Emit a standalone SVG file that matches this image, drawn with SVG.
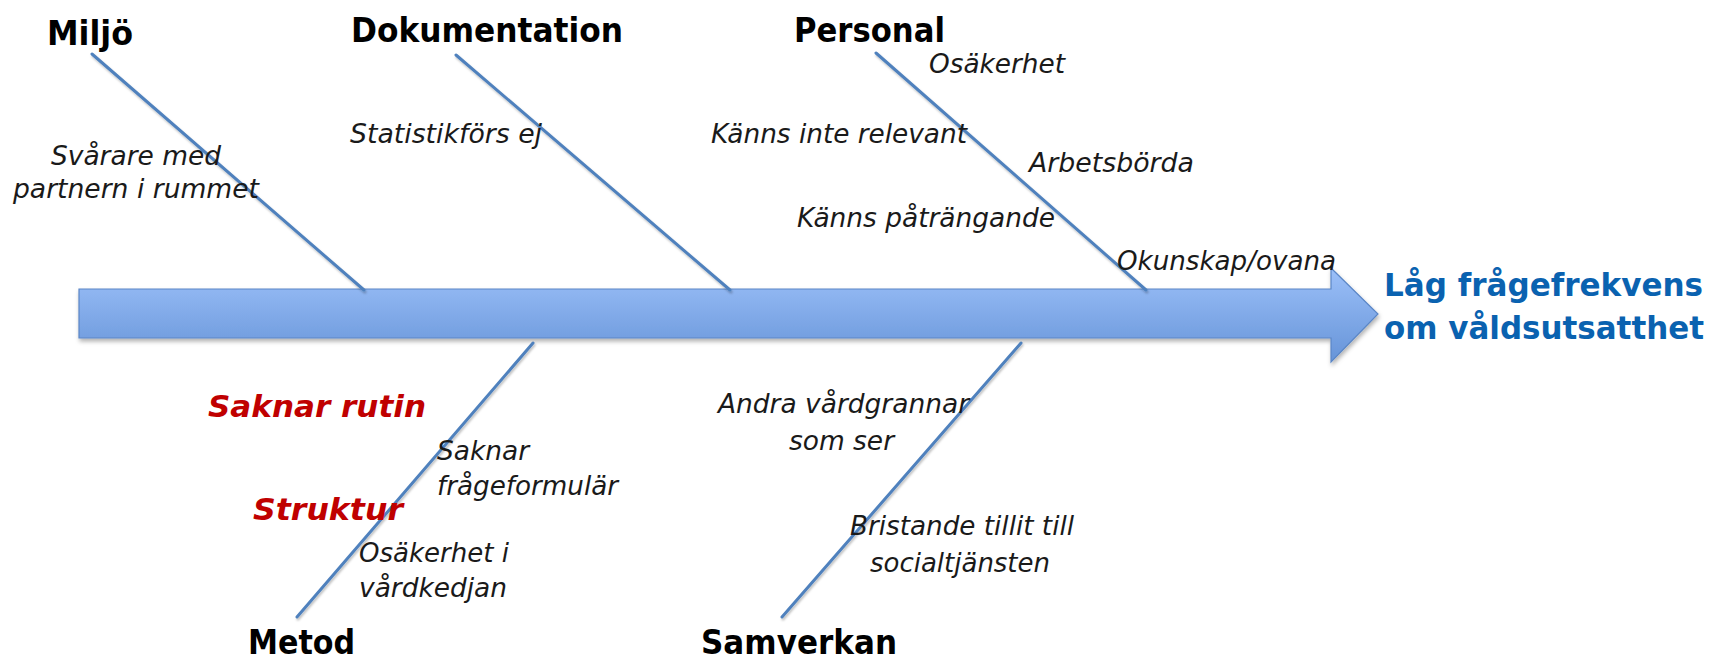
<svg xmlns="http://www.w3.org/2000/svg" width="1713" height="661" viewBox="0 0 1713 661">
<style>
.cat{font-family:"DejaVu Sans",Verdana,sans-serif;font-weight:bold;font-size:34px;fill:#000}
.lbl{font-family:"DejaVu Sans",Verdana,sans-serif;font-style:italic;font-size:26px;fill:#1a1a1a}
.red{font-family:"DejaVu Sans",Verdana,sans-serif;font-style:italic;font-weight:bold;font-size:30px;fill:#C00000}
.ttl{font-family:"DejaVu Sans",Verdana,sans-serif;font-weight:bold;font-size:31.5px;fill:#0A62B0}
.bone{stroke:#4F81BD;stroke-width:3;fill:none;stroke-linecap:round}
</style>
<defs>
<linearGradient id="g" x1="0" y1="0" x2="0" y2="1">
<stop offset="0" stop-color="#9CC0F9"/>
<stop offset="1" stop-color="#6694D8"/>
</linearGradient>
<filter id="sh" x="-5%" y="-20%" width="110%" height="150%">
<feDropShadow dx="1" dy="3" stdDeviation="2" flood-color="#000" flood-opacity="0.3"/>
</filter>
<filter id="lsh" x="-10%" y="-10%" width="120%" height="120%">
<feDropShadow dx="1" dy="2" stdDeviation="1" flood-color="#000" flood-opacity="0.25"/>
</filter>
</defs>
<g id="spine">
<path d="M79,289 H1331 V268 L1378,314 L1331,362 V338 H79 Z" fill="url(#g)" stroke="#5A86C6" stroke-width="1.2" filter="url(#sh)"/>
</g>
<g id="connectors" filter="url(#lsh)">
<line class="bone" x1="92" y1="54" x2="364" y2="290"/>
<line class="bone" x1="456" y1="55" x2="730" y2="290"/>
<line class="bone" x1="876" y1="53" x2="1146" y2="290"/>
<line class="bone" x1="533" y1="343" x2="297" y2="617"/>
<line class="bone" x1="1021" y1="343" x2="782" y2="617"/>
</g>
<g id="effect">
<text class="ttl" x="1384" y="296" textLength="319" lengthAdjust="spacingAndGlyphs">Låg frågefrekvens</text>
<text class="ttl" x="1384" y="339" textLength="320" lengthAdjust="spacingAndGlyphs">om våldsutsatthet</text>
</g>
<g id="miljo">
<text class="cat" x="47" y="45" textLength="86" lengthAdjust="spacingAndGlyphs">Miljö</text>
<text class="lbl" x="51" y="165" textLength="170" lengthAdjust="spacingAndGlyphs">Svårare med</text>
<text class="lbl" x="13" y="198" textLength="246" lengthAdjust="spacingAndGlyphs">partnern i rummet</text>
</g>
<g id="dokumentation">
<text class="cat" x="351" y="42" textLength="272" lengthAdjust="spacingAndGlyphs">Dokumentation</text>
<text class="lbl" x="350" y="143" textLength="192" lengthAdjust="spacingAndGlyphs">Statistikförs ej</text>
</g>
<g id="personal">
<text class="cat" x="794" y="42" textLength="151" lengthAdjust="spacingAndGlyphs">Personal</text>
<text class="lbl" x="929" y="73" textLength="136" lengthAdjust="spacingAndGlyphs">Osäkerhet</text>
<text class="lbl" x="711" y="143" textLength="256" lengthAdjust="spacingAndGlyphs">Känns inte relevant</text>
<text class="lbl" x="1029" y="172" textLength="165" lengthAdjust="spacingAndGlyphs">Arbetsbörda</text>
<text class="lbl" x="797" y="227" textLength="258" lengthAdjust="spacingAndGlyphs">Känns påträngande</text>
<text class="lbl" x="1117" y="270" textLength="219" lengthAdjust="spacingAndGlyphs">Okunskap/ovana</text>
</g>
<g id="metod">
<text class="cat" x="248" y="654" textLength="107" lengthAdjust="spacingAndGlyphs">Metod</text>
<text class="red" x="208" y="417" textLength="218" lengthAdjust="spacingAndGlyphs">Saknar rutin</text>
<text class="red" x="253" y="520" textLength="150" lengthAdjust="spacingAndGlyphs">Struktur</text>
<text class="lbl" x="437" y="460" textLength="92" lengthAdjust="spacingAndGlyphs">Saknar</text>
<text class="lbl" x="437" y="495" textLength="181" lengthAdjust="spacingAndGlyphs">frågeformulär</text>
<text class="lbl" x="359" y="562" textLength="150" lengthAdjust="spacingAndGlyphs">Osäkerhet i</text>
<text class="lbl" x="359" y="597" textLength="148" lengthAdjust="spacingAndGlyphs">vårdkedjan</text>
</g>
<g id="samverkan">
<text class="cat" x="701" y="654" textLength="196" lengthAdjust="spacingAndGlyphs">Samverkan</text>
<text class="lbl" x="718" y="413" textLength="251" lengthAdjust="spacingAndGlyphs">Andra vårdgrannar</text>
<text class="lbl" x="789" y="450" textLength="105" lengthAdjust="spacingAndGlyphs">som ser</text>
<text class="lbl" x="850" y="535" textLength="224" lengthAdjust="spacingAndGlyphs">Bristande tillit till</text>
<text class="lbl" x="870" y="572" textLength="180" lengthAdjust="spacingAndGlyphs">socialtjänsten</text>
</g>
</svg>
